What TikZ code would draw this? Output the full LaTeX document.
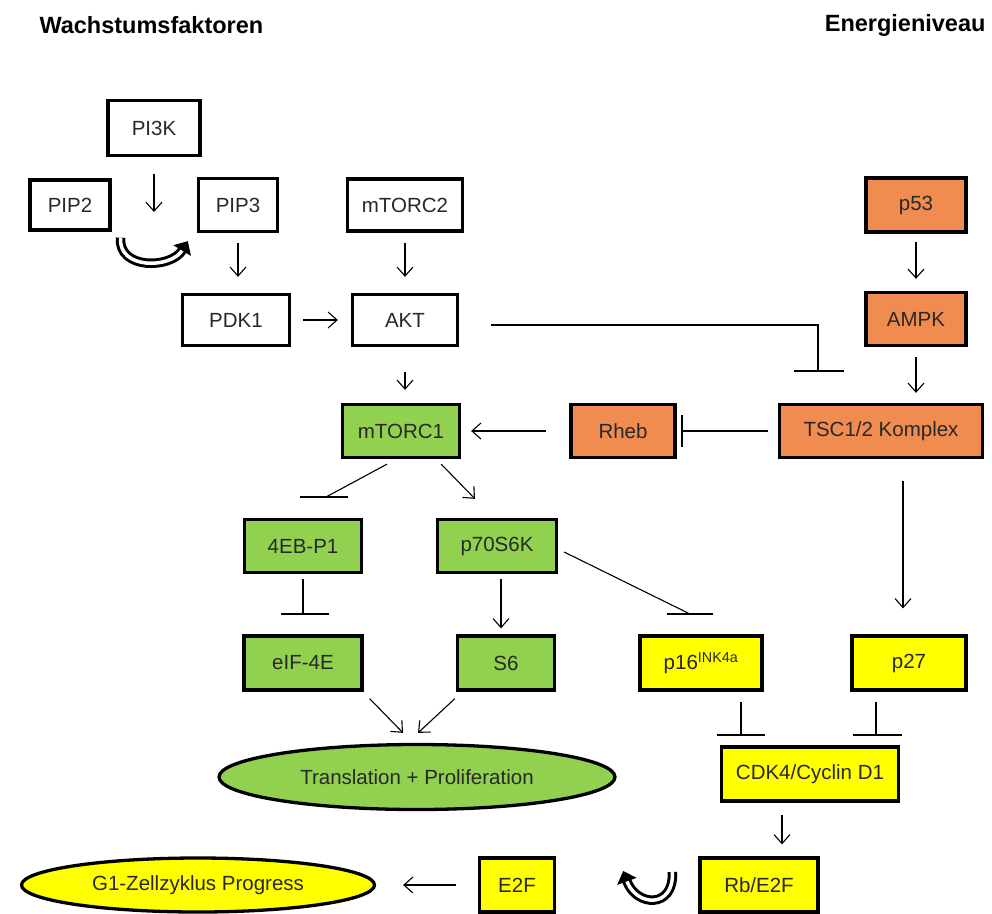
\documentclass[tikz,border=0pt]{standalone}
\usepackage{fontspec}
\setmainfont{Liberation Sans}
\usetikzlibrary{arrows,arrows.meta,shapes,calc}
\definecolor{orangefill}{RGB}{240,140,80}
\definecolor{greenfill}{RGB}{146,208,80}
\definecolor{yellowfill}{RGB}{255,255,0}
\definecolor{textgrey}{RGB}{40,40,40}
\tikzstyle{box}=[rectangle,draw,line width=3.3pt,inner sep=0pt,text=textgrey,font=\fontsize{20.5}{24}\selectfont]
\tikzstyle{wbox}=[box,fill=white]
\tikzstyle{obox}=[box,fill=orangefill]
\tikzstyle{gbox}=[box,fill=greenfill]
\tikzstyle{ybox}=[box,fill=yellowfill]
\tikzstyle{oval}=[ellipse,draw,line width=3.3pt,inner sep=0pt,text=textgrey,font=\fontsize{20.5}{24}\selectfont]
\tikzstyle{edge}=[draw,line width=1.1pt,-{Straight Barb[length=9pt,width=16pt]}]
\tikzstyle{inhib}=[draw,line width=1.1pt]
\tikzstyle{hollow}=[draw,double=white,double distance=3.5pt,line width=3pt,-{Triangle[length=11pt,width=20pt]}]
\tikzstyle{title}=[font=\bfseries\fontsize{23.5}{28}\selectfont]

\begin{document}
\begin{tikzpicture}[x=1pt,y=-1pt]
    \useasboundingbox (0,0) rectangle (992,913);

    % titles
    \node[title,anchor=west] (wachstum) at (36,25) {Wachstumsfaktoren};
    \node[title,anchor=east] (energie) at (989,25) {Energieniveau};

    % white boxes
    \node[wbox,minimum width=92pt,minimum height=55pt] (pi3k) at (154,128) {PI3K};
    \node[wbox,minimum width=80pt,minimum height=50pt] (pip2) at (70,205) {PIP2};
    \node[wbox,minimum width=79pt,minimum height=53pt] (pip3) at (238,205) {PIP3};
    \node[wbox,minimum width=115pt,minimum height=52pt] (mtorc2) at (405,205) {mTORC2};
    \node[wbox,minimum width=107pt,minimum height=51pt] (pdk1) at (236,320) {PDK1};
    \node[wbox,minimum width=105pt,minimum height=51pt] (akt) at (405,320) {AKT};

    % orange boxes
    \node[obox,minimum width=100pt,minimum height=54pt] (p53) at (916,205) {p53};
    \node[obox,minimum width=100pt,minimum height=53pt] (ampk) at (916,319) {AMPK};
    \node[obox,minimum width=203pt,minimum height=53pt] (tsc) at (881,431) {TSC1/2 Komplex};
    \node[obox,minimum width=104pt,minimum height=53pt] (rheb) at (623,431) {Rheb};

    % green boxes
    \node[gbox,minimum width=117pt,minimum height=53pt] (mtorc1) at (401,431) {mTORC1};
    \node[gbox,minimum width=117pt,minimum height=53pt] (eb4) at (303,546) {4EB-P1};
    \node[gbox,minimum width=119pt,minimum height=53pt] (p70) at (497,546) {p70S6K};
    \node[gbox,minimum width=118pt,minimum height=54pt] (eif) at (303,663) {eIF-4E};
    \node[gbox,minimum width=97pt,minimum height=54pt] (s6) at (506,663) {S6};
    \node[oval,fill=greenfill,minimum width=396pt,minimum height=65pt] (trans) at (417,777) {Translation + Proliferation};

    % yellow boxes
    \node[ybox,minimum width=122pt,minimum height=54pt] (p16) at (701,663) {p16\textsuperscript{INK4a}};
    \node[ybox,minimum width=114pt,minimum height=54pt] (p27) at (909,663) {p27};
    \node[ybox,minimum width=177pt,minimum height=54pt] (cdk) at (810,774) {CDK4/Cyclin D1};
    \node[ybox,minimum width=118pt,minimum height=54pt] (rb) at (759,885) {Rb/E2F};
    \node[ybox,minimum width=75pt,minimum height=54pt] (e2f) at (517,885) {E2F};
    \node[oval,fill=yellowfill,minimum width=353pt,minimum height=54pt] (g1) at (198,885) {G1-Zellzyklus Progress};

    % free ends
    \coordinate (pi3kend) at (154,212);
    \coordinate (aktbend) at (818,325);
    \coordinate (aktbar) at (818,371);
    \coordinate (rhebbar) at (682,431);
    \coordinate (ebbar) at (326,497);
    \coordinate (eifbar) at (303,614);
    \coordinate (p16bar) at (690,614);
    \coordinate (cdkbar1) at (741,735);
    \coordinate (cdkbar2) at (876,735);

    % activations
    \draw[edge,shorten <=17pt] (pi3k) -- (pi3kend);
    \draw[edge,shorten <=10pt,shorten >=16pt] (pip3) -- (pip3 |- pdk1.north);
    \draw[edge,shorten <=10pt,shorten >=16pt] (mtorc2) -- (akt);
    \draw[edge,shorten <=12pt,shorten >=13pt] (pdk1) -- (akt);
    \draw[edge,shorten <=25pt,shorten >=13pt] (akt) -- (akt |- mtorc1.north);
    \draw[edge,shorten <=8pt,shorten >=12pt] (p53) -- (ampk);
    \draw[edge,shorten <=10pt,shorten >=10pt] (ampk) -- (ampk |- tsc.north);
    \draw[edge,shorten <=23pt,shorten >=10pt] (rheb) -- (mtorc1);
    \draw[edge,shorten <=22pt,shorten >=26pt] ([xshift=22pt]tsc.south) -- ([xshift=22pt]tsc.south |- p27.north);
    \draw[edge,shorten >=6pt] ([shift={(4pt,-5pt)}]p70.south) -- ([xshift=4pt]p70.south |- s6.north);
    \draw[edge] ([shift={(-20pt,-5pt)}]mtorc1.south east) -- ([shift={(-22pt,19pt)}]p70.north);
    \draw[edge] ([shift={(6pt,-7pt)}]eif.south east) -- ([shift={(-14pt,10pt)}]trans.north);
    \draw[edge] ([shift={(-1pt,-7pt)}]s6.south west) -- ([shift={(1pt,10pt)}]trans.north);
    \draw[edge,shorten <=12pt,shorten >=12pt] ([xshift=-28pt]cdk.south) -- ([xshift=-28pt]cdk.south |- rb.north);
    \draw[edge,shorten <=22pt,shorten >=27pt] (e2f) -- (g1);

    % inhibitions
    \draw[inhib,shorten <=32pt] (akt.east |- aktbend) -- (aktbend) -- (aktbar);
    \draw[inhib] ([xshift=-24pt]aktbar) -- ([xshift=26pt]aktbar);
    \draw[inhib,shorten <=10pt] (tsc) -- (rhebbar);
    \draw[inhib] ([yshift=16pt]rhebbar) -- ([yshift=-16pt]rhebbar);
    \draw[inhib] ([shift={(-14pt,-5pt)}]mtorc1.south) -- (ebbar);
    \draw[inhib] ([xshift=-26pt]ebbar) -- ([xshift=22pt]ebbar);
    \draw[inhib,shorten <=5pt] (eb4) -- (eifbar);
    \draw[inhib] ([xshift=-22pt]eifbar) -- ([xshift=26pt]eifbar);
    \draw[inhib] ([shift={(6pt,-6pt)}]p70.east) -- (p16bar);
    \draw[inhib] ([xshift=-23pt]p16bar) -- ([xshift=23pt]p16bar);
    \draw[inhib,shorten <=10pt] (p16.south -| cdkbar1) -- (cdkbar1);
    \draw[inhib] ([xshift=-24pt]cdkbar1) -- ([xshift=24pt]cdkbar1);
    \draw[inhib,shorten <=10pt] (p27.south -| cdkbar2) -- (cdkbar2);
    \draw[inhib] ([xshift=-23pt]cdkbar2) -- ([xshift=26pt]cdkbar2);

    % conversions
    \draw[hollow] ([shift={(9pt,-6pt)}]pip2.south east) .. controls ([shift={(6pt,-38pt)}]pip2.south east) and ([shift={(-26pt,-36pt)}]pip3.south west) .. ([shift={(-9pt,-8pt)}]pip3.south west);
    \draw[hollow] ([shift={(-26pt,13pt)}]rb.west) .. controls ([shift={(-24pt,-24pt)}]rb.west) and ([shift={(80pt,-22pt)}]e2f.east) .. ([shift={(67pt,14pt)}]e2f.east);
\end{tikzpicture}
\end{document}
